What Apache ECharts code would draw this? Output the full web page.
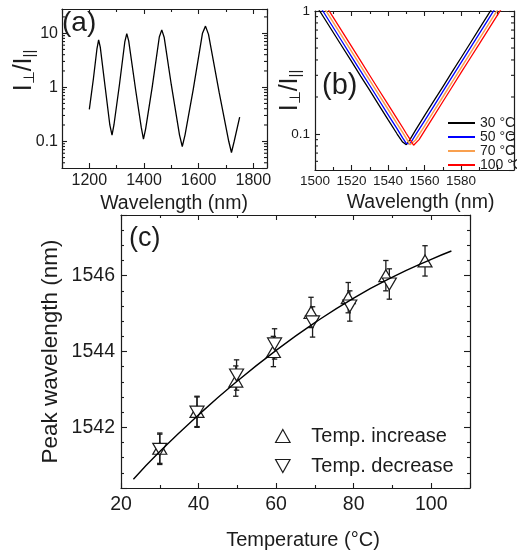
<!DOCTYPE html>
<html><head><meta charset="utf-8">
<script src="https://cdn.jsdelivr.net/npm/echarts@6/dist/echarts.min.js"></script>
<style>html,body{margin:0;padding:0;background:#fff}#c{width:517px;height:552px}</style>
</head><body><div id="c"></div>
<script>
// ---------- Panel (a): broadband spectrum ----------
const aWave  = [1200,1215,1228,1234,1240,1258,1275,1283,1290,1310,1330,1337,1344,1370,1390,1398,1406,1430,1456,1465,1474,1500,1530,1540,1550,1580,1614,1625,1636,1675,1710,1720,1730,1750];
const aRatio = [0.39,1.45,5.2,7.5,5.5,1.0,0.2,0.13,0.2,1.1,7.0,9.8,7.2,0.85,0.18,0.11,0.17,1.0,8.5,11.5,8.3,1.1,0.13,0.08,0.13,0.9,10,13.5,9.5,0.8,0.1,0.062,0.1,0.28];

// ---------- Panel (b): dip vs temperature ----------
const bNames = ['30 °C','50 °C','70 °C','100 °C'];
const bColors = ['#000000','#0000ff','#f9a04f','#ff0000'];
const bWave30 = [1500,1505,1510,1515,1520,1525,1530,1535,1540,1545,1548,1550,1552,1555,1560,1565,1570,1575,1580,1585,1590,1595,1600,1605];
const bVal30  = [1.15,0.877,0.669,0.510,0.389,0.296,0.226,0.172,0.131,0.100,0.086,0.082,0.090,0.107,0.141,0.185,0.242,0.318,0.417,0.547,0.718,0.942,1.24,1.6];
const bWave50 = [1500,1505,1510,1515,1520,1525,1530,1535,1540,1545,1548,1550,1551,1552,1555,1560,1565,1570,1575,1580,1585,1590,1595,1600,1605];
const bVal50  = [1.26,0.963,0.734,0.560,0.426,0.325,0.248,0.189,0.144,0.110,0.093,0.084,0.081,0.083,0.098,0.128,0.168,0.221,0.290,0.380,0.499,0.655,0.859,1.13,1.48];
const bWave70 = [1500,1505,1510,1515,1520,1525,1530,1535,1540,1545,1548,1550,1552,1553,1555,1560,1565,1570,1575,1580,1585,1590,1595,1600,1605];
const bVal70  = [1.39,1.06,0.809,0.617,0.470,0.358,0.273,0.208,0.159,0.121,0.103,0.092,0.082,0.080,0.089,0.116,0.153,0.200,0.263,0.345,0.453,0.594,0.779,1.02,1.34];
const bWave100= [1500,1505,1510,1515,1520,1525,1530,1535,1540,1545,1548,1550,1552,1554,1555,1557,1560,1565,1570,1575,1580,1585,1590,1595,1600,1605];
const bVal100 = [1.53,1.16,0.887,0.676,0.515,0.393,0.299,0.228,0.174,0.133,0.113,0.101,0.091,0.081,0.081,0.090,0.106,0.139,0.183,0.240,0.315,0.413,0.541,0.710,0.931,1.22];

// ---------- Panel (c): peak wavelength vs temperature ----------
const incTemp = [30, 39.6, 49.6, 59.3, 69.0, 78.6, 88.3, 98.4];
const incPeak = [1541.45, 1542.42, 1543.22, 1544.00, 1545.03, 1545.42, 1546.00, 1546.39];
const incErr  = [0.40, 0.40, 0.40, 0.40, 0.40, 0.40, 0.40, 0.40];
const decTemp = [30, 39.6, 49.8, 59.6, 69.4, 79.0, 89.2];
const decPeak = [1541.42, 1542.40, 1543.38, 1544.20, 1544.78, 1545.20, 1545.78];
const decErr  = [0.40, 0.40, 0.40, 0.40, 0.40, 0.40, 0.40];
const fitTemp = [23.2, 30, 40, 50, 60, 70, 80, 90, 100, 105.2];
const fitPeak = [1540.63, 1541.36, 1542.33, 1543.22, 1544.03, 1544.76, 1545.41, 1545.96, 1546.43, 1546.65];

// log-axis minor tick values
const aMinor = [0.04,0.05,0.06,0.07,0.08,0.09,0.2,0.3,0.4,0.5,0.6,0.7,0.8,0.9,2,3,4,5,6,7,8,9,20];
const bMinor = [0.06,0.07,0.08,0.09,0.2,0.3,0.4,0.5,0.6,0.7,0.8,0.9];

const REG = "'Liberation Sans',Arial,sans-serif";
const INK = '#1c1c1c';

const axLine = {show: true, lineStyle: {color: INK, width: 1.2}};
const tick = (len) => ({show: true, inside: true, length: len, lineStyle: {color: INK, width: 1.1}});
const minor = (n) => ({show: true, splitNumber: n, length: 3, lineStyle: {color: INK, width: 1.1}});
const plain = v => String(v);

function valueX(grid, pos, min, max, extra, labelOpt) {
  return Object.assign({
    type: 'value', gridIndex: grid, position: pos, min: min, max: max, nameMoveOverlap: false,
    axisLine: axLine, axisTick: tick(5), splitLine: {show: false},
    axisLabel: labelOpt ? labelOpt : {show: false}
  }, extra);
}

const zip = (a, b) => a.map((v, i) => [v, b[i]]);
const fmtLog = v => String(+Number(v).toPrecision(2));

function logMinorSeries(xi, yi, vals, xmin) {
  return {
    type: 'custom', xAxisIndex: xi, yAxisIndex: yi, silent: true, z: 5, clip: false,
    data: vals.map(v => [xmin, v]),
    renderItem: function (params, api) {
      const cs = params.coordSys;
      const y = api.coord([api.value(0), api.value(1)])[1];
      return {type: 'group', children: [
        {type: 'line', shape: {x1: cs.x, y1: y, x2: cs.x + 3, y2: y}, style: {stroke: INK, lineWidth: 1.1}},
        {type: 'line', shape: {x1: cs.x + cs.width - 3, y1: y, x2: cs.x + cs.width, y2: y}, style: {stroke: INK, lineWidth: 1.1}}
      ]};
    }
  };
}

function errSeries(temps, peaks, errs) {
  return {
    type: 'custom', xAxisIndex: 4, yAxisIndex: 4, silent: true, z: 1,
    data: temps.map((t, i) => [t, peaks[i] - errs[i], peaks[i] + errs[i]]),
    renderItem: function (params, api) {
      const lo = api.coord([api.value(0), api.value(1)]);
      const hi = api.coord([api.value(0), api.value(2)]);
      const st = {stroke: INK, lineWidth: 1.3};
      return {type: 'group', children: [
        {type: 'line', shape: {x1: lo[0], y1: lo[1], x2: hi[0], y2: hi[1]}, style: st},
        {type: 'line', shape: {x1: lo[0] - 2.7, y1: lo[1], x2: lo[0] + 2.7, y2: lo[1]}, style: st},
        {type: 'line', shape: {x1: hi[0] - 2.7, y1: hi[1], x2: hi[0] + 2.7, y2: hi[1]}, style: st}
      ]};
    }
  };
}

const tickLabA = {show: true, fontFamily: REG, fontSize: 16, color: INK, margin: 5, formatter: plain};
const tickLabB = {show: true, fontFamily: REG, fontSize: 13.5, color: INK, margin: 4};
const tickLabC = {show: true, fontFamily: REG, fontSize: 19.5, color: INK, margin: 7, formatter: plain};

const ratioName = '{i|I}{s|⊥}{i|/I}{s|||}';
const ratioRich = {
  i: {fontFamily: REG, fontSize: 25, color: INK},
  s: {fontFamily: REG, fontSize: 15, color: INK, verticalAlign: 'bottom'}
};

const option = {
  animation: false,
  backgroundColor: '#fff',
  title: [
    {text: '(a)', left: 62, top: 9, padding: 0, textStyle: {fontFamily: REG, fontSize: 28, fontWeight: 'normal', color: INK}},
    {text: '(b)', left: 322, top: 71, padding: 0, textStyle: {fontFamily: REG, fontSize: 29, fontWeight: 'normal', color: INK}},
    {text: '(c)', left: 129, top: 225, padding: 0, textStyle: {fontFamily: REG, fontSize: 27, fontWeight: 'normal', color: INK}}
  ],
  grid: [
    {left: 62, top: 9, width: 205, height: 159},
    {left: 315, top: 11, width: 210, height: 159},
    {left: 121, top: 215, width: 349, height: 273}
  ],
  legend: [
    {
      orient: 'vertical', left: 448, top: 116, itemWidth: 27, itemHeight: 2, itemGap: 0,
      icon: 'rect', data: bNames, padding: 0,
      textStyle: {fontFamily: REG, fontSize: 14, color: INK, lineHeight: 13}
    },
    {
      orient: 'vertical', left: 275, top: 423, itemWidth: 15, itemHeight: 13, itemGap: 4, padding: 0,
      data: [
        {name: 'Temp. increase', icon: 'path://M5,0 L10,9 L0,9 Z'},
        {name: 'Temp. decrease', icon: 'path://M0,0 L10,0 L5,9 Z'}
      ],
      itemStyle: {color: '#fff', borderColor: INK, borderWidth: 1.2, opacity: 1},
      textStyle: {fontFamily: REG, fontSize: 20, color: INK, lineHeight: 26, padding: [0, 0, 0, 16]}
    }
  ],
  xAxis: [
    valueX(0, 'bottom', 1100, 1850, {minInterval: 200, maxInterval: 200, minorTick: minor(2),
      name: 'Wavelength (nm)', nameLocation: 'middle', nameGap: 26,
      nameTextStyle: {fontFamily: REG, fontSize: 19.5, color: INK, padding: [0, 0, 0, 19]}},
      Object.assign({}, tickLabA, {showMinLabel: false, showMaxLabel: false})),
    valueX(0, 'top', 1100, 1850, {minInterval: 200, maxInterval: 200, minorTick: minor(2)}),
    valueX(1, 'bottom', 1500, 1609, {interval: 20, minorTick: minor(2),
      name: 'Wavelength (nm)', nameLocation: 'middle', nameGap: 23,
      nameTextStyle: {fontFamily: REG, fontSize: 19.5, color: INK, padding: [0, 0, 0, 12]}},
      Object.assign({}, tickLabB, {formatter: v => (v <= 1580 ? String(v) : '')})),
    valueX(1, 'top', 1500, 1609, {interval: 20, minorTick: minor(2)}),
    valueX(2, 'bottom', 20, 110, {interval: 20, minorTick: minor(2),
      name: 'Temperature (°C)', nameLocation: 'middle', nameGap: 42,
      nameTextStyle: {fontFamily: REG, fontSize: 20, color: INK, padding: [0, 0, 0, 15]}},
      Object.assign({}, tickLabC, {showMaxLabel: false})),
    valueX(2, 'top', 20, 110, {interval: 20, minorTick: minor(2)})
  ],
  yAxis: [
    {type: 'log', logBase: 10, gridIndex: 0, position: 'left', min: 0.032, max: 28, nameMoveOverlap: false,
      axisLine: axLine, axisTick: tick(5), splitLine: {show: false},
      axisLabel: Object.assign({}, tickLabA, {margin: 4, formatter: fmtLog, showMinLabel: false, showMaxLabel: false}),
      name: ratioName, nameLocation: 'middle', nameGap: 25,
      nameTextStyle: {rich: ratioRich, padding: [0, 0, 0, 36]}},
    {type: 'log', logBase: 10, gridIndex: 0, position: 'right', min: 0.032, max: 28,
      axisLine: axLine, axisTick: tick(5), splitLine: {show: false}, axisLabel: {show: false}},
    {type: 'log', logBase: 10, gridIndex: 1, position: 'left', min: 0.051, max: 1, nameMoveOverlap: false,
      axisLine: axLine, axisTick: tick(5), splitLine: {show: false},
      axisLabel: Object.assign({}, tickLabB, {margin: 5, formatter: fmtLog, showMinLabel: false}),
      name: ratioName, nameLocation: 'middle', nameGap: 12,
      nameTextStyle: {rich: ratioRich}},
    {type: 'log', logBase: 10, gridIndex: 1, position: 'right', min: 0.051, max: 1,
      axisLine: axLine, axisTick: tick(5), splitLine: {show: false}, axisLabel: {show: false}},
    {type: 'value', gridIndex: 2, position: 'left', min: 1540.4, max: 1547.6, minInterval: 2, maxInterval: 2, nameMoveOverlap: false,
      axisLine: axLine, axisTick: tick(6), minorTick: minor(5), splitLine: {show: false},
      axisLabel: Object.assign({}, tickLabC, {margin: 6, showMinLabel: false, showMaxLabel: false}),
      name: 'Peak wavelength (nm)', nameLocation: 'middle', nameGap: 59,
      nameTextStyle: {fontFamily: REG, fontSize: 22.5, color: INK}},
    {type: 'value', gridIndex: 2, position: 'right', min: 1540.4, max: 1547.6, minInterval: 2, maxInterval: 2,
      axisLine: axLine, axisTick: tick(6), minorTick: minor(5), splitLine: {show: false}, axisLabel: {show: false}}
  ],
  series: [
    {type: 'line', xAxisIndex: 0, yAxisIndex: 0, data: zip(aWave, aRatio), showSymbol: false,
      lineStyle: {color: '#000', width: 1.3}, itemStyle: {color: '#000'}, z: 3},
    logMinorSeries(0, 0, aMinor, 1100),
    logMinorSeries(2, 2, bMinor, 1500),
    {name: bNames[0], type: 'line', xAxisIndex: 2, yAxisIndex: 2, data: zip(bWave30, bVal30), showSymbol: false,
      lineStyle: {color: bColors[0], width: 1.3}, itemStyle: {color: bColors[0]}, z: 3},
    {name: bNames[1], type: 'line', xAxisIndex: 2, yAxisIndex: 2, data: zip(bWave50, bVal50), showSymbol: false,
      lineStyle: {color: bColors[1], width: 1.3}, itemStyle: {color: bColors[1]}, z: 3},
    {name: bNames[2], type: 'line', xAxisIndex: 2, yAxisIndex: 2, data: zip(bWave70, bVal70), showSymbol: false,
      lineStyle: {color: bColors[2], width: 1.5}, itemStyle: {color: bColors[2]}, z: 3},
    {name: bNames[3], type: 'line', xAxisIndex: 2, yAxisIndex: 2, data: zip(bWave100, bVal100), showSymbol: false,
      lineStyle: {color: bColors[3], width: 1.3}, itemStyle: {color: bColors[3]}, z: 3},
    errSeries(incTemp, incPeak, incErr),
    errSeries(decTemp, decPeak, decErr),
    {name: 'Temp. increase', type: 'scatter', xAxisIndex: 4, yAxisIndex: 4, data: zip(incTemp, incPeak),
      symbol: 'triangle', symbolSize: [14, 12], itemStyle: {color: '#fff', borderColor: INK, borderWidth: 1.2, opacity: 1}, z: 2},
    {name: 'Temp. decrease', type: 'scatter', xAxisIndex: 4, yAxisIndex: 4, data: zip(decTemp, decPeak),
      symbol: 'triangle', symbolRotate: 180, symbolSize: [14, 12], itemStyle: {color: '#fff', borderColor: INK, borderWidth: 1.2, opacity: 1}, z: 2},
    {type: 'line', xAxisIndex: 4, yAxisIndex: 4, data: zip(fitTemp, fitPeak), smooth: true, showSymbol: false,
      lineStyle: {color: '#000', width: 1.4}, itemStyle: {color: '#000'}, z: 4}
  ]
};

const chart = echarts.init(document.getElementById('c'), null, {renderer: 'canvas'});
chart.setOption(option);
</script>
</body></html>
